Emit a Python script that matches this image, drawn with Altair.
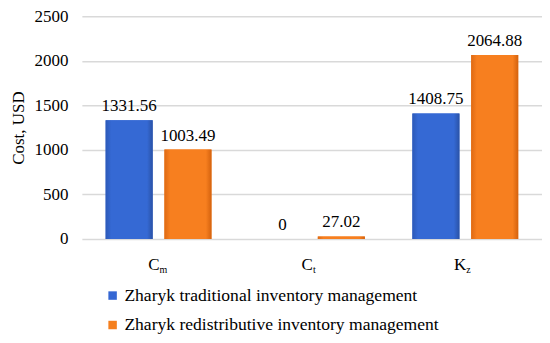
import altair as alt
import pandas as pd

categories = ["Cm", "Ct", "Kz"]
main_letters = ["C", "C", "K"]
sub_letters = ["m", "t", "z"]
series = ["Zharyk traditional inventory management", "Zharyk redistributive inventory management"]
traditional = [1331.56, 0, 1408.75]
redistributive = [1003.49, 27.02, 2064.88]
label_trad = ["1331.56", "0", "1408.75"]
label_redis = ["1003.49", "27.02", "2064.88"]
colors = ["#3567d3", "#f57f1e"]

rows = []
for i, c in enumerate(categories):
    rows.append({"cat": c, "series": series[0], "value": traditional[i], "label": label_trad[i]})
    rows.append({"cat": c, "series": series[1], "value": redistributive[i], "label": label_redis[i]})
df = pd.DataFrame(rows)
cat_df = pd.DataFrame({"cat": categories, "main": main_letters, "sub": sub_letters})

FONT = "Liberation Serif"

x = alt.X("cat:N", sort=categories, axis=None,
          scale=alt.Scale(paddingInner=0.31, paddingOuter=0.155))
xo = alt.XOffset("series:N", sort=series, scale=alt.Scale(paddingInner=0.2, paddingOuter=0))
y = alt.Y("value:Q", scale=alt.Scale(domain=[0, 2500], nice=False),
          axis=alt.Axis(values=[0, 500, 1000, 1500, 2000, 2500], format="d", title="Cost, USD",
                        titleFontSize=17, titleFontWeight="normal", titleFont=FONT,
                        titleColor="#000000", titlePadding=6,
                        labelFontSize=17, labelColor="#000000", labelFont=FONT,
                        labelPadding=14, ticks=False, domain=False,
                        gridColor="#d9d9d9", gridWidth=1.5))

bars = alt.Chart(df).mark_bar().encode(
    x=x, xOffset=xo, y=y,
    color=alt.Color("series:N", sort=series,
                    scale=alt.Scale(domain=series, range=colors),
                    legend=alt.Legend(title=None, orient="none", legendX=22, legendY=271,
                                      direction="vertical", symbolType="square",
                                      symbolSize=72, symbolStrokeWidth=0,
                                      labelFontSize=17.6, labelColor="#000000", labelFont=FONT,
                                      rowPadding=10.5, labelLimit=500, labelOffset=3)),
)

def grad(c_edge, c_mid, c_edge2):
    return alt.Gradient(gradient="linear", x1=0, x2=1, y1=0, y2=0,
                        stops=[alt.GradientStop(offset=0, color=c_edge),
                               alt.GradientStop(offset=0.12, color=c_mid),
                               alt.GradientStop(offset=0.88, color=c_mid),
                               alt.GradientStop(offset=1, color=c_edge2)])

blue_bars = alt.Chart(df).transform_filter(alt.datum.series == series[0]).mark_bar(
    fill=grad("#2c59b8", "#3569d4", "#2a52a6")
).encode(x=x, xOffset=xo, y=alt.Y("value:Q"))
orange_bars = alt.Chart(df).transform_filter(alt.datum.series == series[1]).mark_bar(
    fill=grad("#de6a14", "#f77f1f", "#d4620e")
).encode(x=x, xOffset=xo, y=alt.Y("value:Q"))

labels = alt.Chart(df).mark_text(fontSize=17, baseline="bottom", dy=-5, color="#000000", font=FONT).encode(
    x=x, xOffset=xo, y=alt.Y("value:Q"), text="label:N"
)

main_txt = alt.Chart(cat_df).mark_text(fontSize=17, baseline="middle", align="right", dx=1, color="#000000", font=FONT).encode(
    x=alt.X("cat:N", sort=categories, axis=None), y=alt.value(249), text="main:N"
)
sub_txt = alt.Chart(cat_df).mark_text(fontSize=10, baseline="middle", align="left", dx=1, dy=5, color="#000000", font=FONT).encode(
    x=alt.X("cat:N", sort=categories, axis=None), y=alt.value(249), text="sub:N"
)

chart = alt.layer(bars, blue_bars, orange_bars, labels, main_txt, sub_txt).properties(
    width=461, height=223,
    autosize=alt.AutoSizeParams(type="none"),
    padding={"left": 74, "top": 8, "right": 0, "bottom": 100},
).configure_view(stroke=None)

chart.save("out.html", embed_options={"renderer": "svg", "actions": False})
